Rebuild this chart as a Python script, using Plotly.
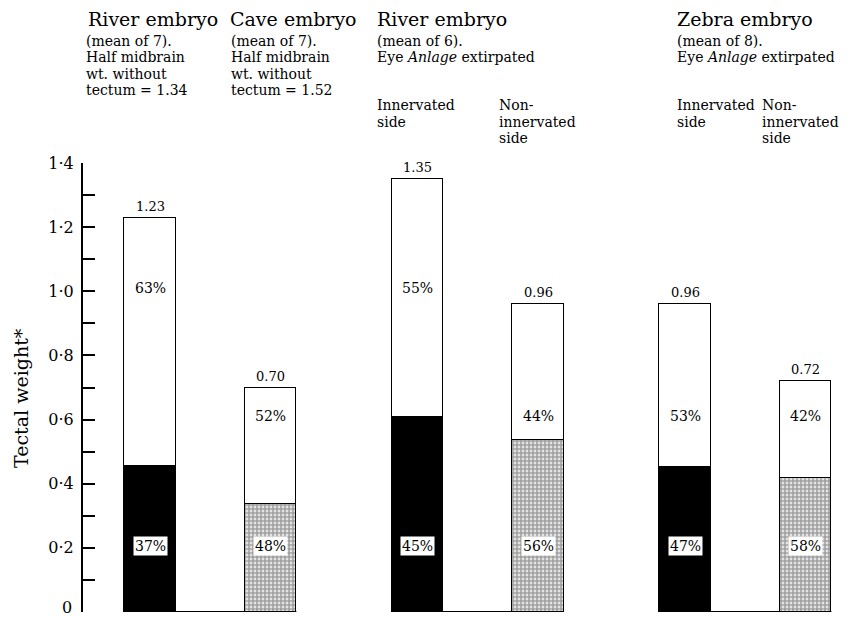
import plotly.graph_objects as go

# ---------------- data ----------------
bar_names = ["River embryo", "Cave embryo", "River innervated", "River non-innervated",
             "Zebra innervated", "Zebra non-innervated"]
bar_totals = [1.23, 0.70, 1.35, 0.96, 0.96, 0.72]
total_labels = ["1.23", "0.70", "1.35", "0.96", "0.96", "0.72"]
lower_pct = [37, 48, 45, 56, 47, 58]
upper_pct = [63, 52, 55, 44, 53, 42]
lower_fill = ["solid", "stipple", "solid", "stipple", "solid", "stipple"]

tick_values = [0, 0.1, 0.2, 0.3, 0.4, 0.5, 0.6, 0.7, 0.8, 0.9, 1.0, 1.1, 1.2, 1.3, 1.4]
tick_labels = ["", "", "0·2", "", "0·4", "", "0·6", "", "0·8", "", "1·0", "", "1·2", "", "1·4"]
zero_label = "0"

y_title = "Tectal weight*"

header_titles = ["River embryo", "Cave embryo", "River embryo", "Zebra embryo"]
header_sub = [
    ["(mean of 7).", "Half midbrain", "wt. without", "tectum = 1.34"],
    ["(mean of 7).", "Half midbrain", "wt. without", "tectum = 1.52"],
    ["(mean of 6).", "Eye <i>Anlage</i> extirpated"],
    ["(mean of 8).", "Eye <i>Anlage</i> extirpated"],
]
side_labels = [
    ["Innervated", "side"], ["Non-", "innervated", "side"],
    ["Innervated", "side"], ["Non-", "innervated", "side"],
]

# ---------------- layout helpers ----------------
OFF = 8                      # page body margin of the html page
FW, FH = 848, 617
ML, MT = 83 - OFF, 163 - OFF
PH = 449
PW = 757
MR = FW - ML - PW
MB = FH - MT - PH
FONT = "DejaVu Serif, Liberation Serif, serif"

def px(xp):
    return (xp - OFF - ML) / PW

def py(yp):
    return (MT + PH - (yp - OFF)) / PH

pair_gap = 2.22
bar_w = 0.43
x_pos = [(i // 2) * pair_gap + (i % 2) for i in range(len(bar_totals))]

lower_vals = [t * p / 100 for t, p in zip(bar_totals, lower_pct)]
upper_vals = [t - l for t, l in zip(bar_totals, lower_vals)]

fig = go.Figure()

fig.add_trace(go.Bar(
    x=x_pos, y=lower_vals, width=bar_w,
    marker=dict(
        color=["black" if f == "solid" else "white" for f in lower_fill],
        line=dict(color="black", width=1.5),
        pattern=dict(shape=["" if f == "solid" else "." for f in lower_fill],
                     fgcolor="black", bgcolor="white", size=4, solidity=0.75),
    ),
    cliponaxis=False, showlegend=False, hoverinfo="skip",
))
fig.add_trace(go.Bar(
    x=x_pos, y=upper_vals, width=bar_w,
    marker=dict(color="white", line=dict(color="black", width=1.5)),
    cliponaxis=False, showlegend=False, hoverinfo="skip",
))

bx, by = [], []
for k in range(0, len(x_pos), 2):
    bx += [x_pos[k] - bar_w / 2, x_pos[k + 1] + bar_w / 2, None]
    by += [0, 0, None]
fig.add_trace(go.Scatter(x=bx, y=by, mode="lines", line=dict(color="black", width=2),
                         cliponaxis=False, showlegend=False, hoverinfo="skip"))

ann = []
for i, x in enumerate(x_pos):
    ann.append(dict(x=x, y=bar_totals[i], text=total_labels[i], showarrow=False,
                    yanchor="bottom", yshift=2, font=dict(size=13, family=FONT, color="black")))
    uy = 1.01 if bar_totals[i] > 1.1 else 0.61
    ann.append(dict(x=x, y=uy, text=f"{upper_pct[i]}%", showarrow=False,
                    font=dict(size=14, family=FONT, color="black")))
    ann.append(dict(x=x, y=0.205, text=f"{lower_pct[i]}%", showarrow=False,
                    bgcolor="white", borderpad=1,
                    font=dict(size=14, family=FONT, color="black")))

title_left = [86, 228, 375, 675]
sub_left = [84, 229, 375, 675]
for g in range(4):
    ann.append(dict(xref="paper", yref="paper", x=px(title_left[g]), y=py(19),
                    xanchor="left", yanchor="middle", text=header_titles[g], showarrow=False,
                    font=dict(size=19, family=FONT, color="black")))
    for j, line in enumerate(header_sub[g]):
        ann.append(dict(xref="paper", yref="paper", x=px(sub_left[g]), y=py(41 + 16.5 * j),
                        xanchor="left", yanchor="middle", text=line, showarrow=False,
                        font=dict(size=14, family=FONT, color="black")))
side_left = [375, 497, 675, 760]
for s in range(4):
    for j, line in enumerate(side_labels[s]):
        ann.append(dict(xref="paper", yref="paper", x=px(side_left[s]), y=py(105 + 16.5 * j),
                        xanchor="left", yanchor="middle", text=line, showarrow=False,
                        font=dict(size=14, family=FONT, color="black")))

ann.append(dict(xref="paper", yref="paper", x=px(21), y=py(398), text=y_title,
                textangle=-90, showarrow=False, xanchor="center", yanchor="middle",
                font=dict(size=19, family=FONT, color="black")))

# "0" tick label, raised a little so it stays inside the page
ann.append(dict(xref="paper", yref="y", x=0, y=0, text=zero_label, showarrow=False,
                xanchor="right", yanchor="bottom", xshift=-9, yshift=-7,
                font=dict(size=16, family=FONT, color="black")))

fig.update_layout(
    width=FW, height=FH,
    margin=dict(l=ML, r=MR, t=MT, b=MB, autoexpand=False),
    paper_bgcolor="white", plot_bgcolor="white",
    barmode="stack", bargap=0,
    annotations=ann,
    xaxis=dict(range=[-0.556, -0.556 + PW / 120.5], visible=False, fixedrange=True),
    yaxis=dict(range=[0, 1.4], tickvals=tick_values, ticktext=tick_labels,
               ticks="inside", ticklen=12, tickwidth=2, tickcolor="black",
               showline=True, linewidth=2, linecolor="black",
               showgrid=False, zeroline=False, automargin=False,
               ticklabelstandoff=4,
               tickfont=dict(size=16, family=FONT, color="black")),
    font=dict(family=FONT, color="black"),
)

fig.write_html("out.html")
